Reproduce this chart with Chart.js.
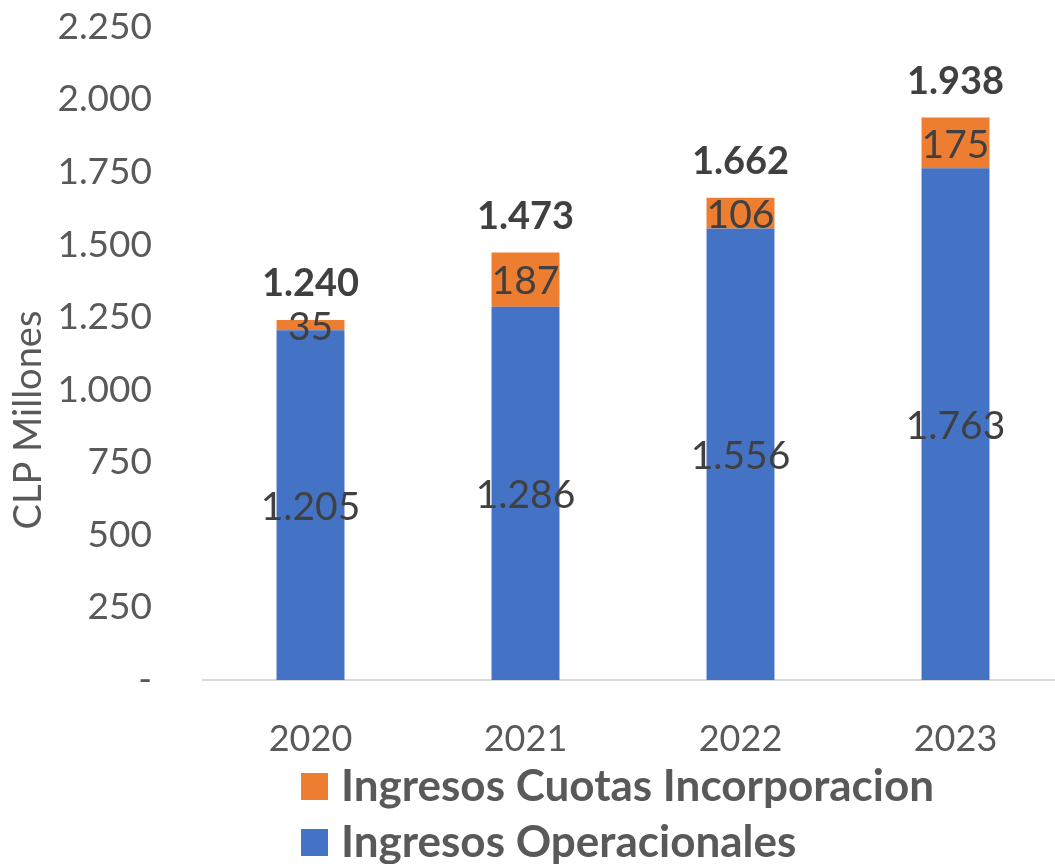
<!DOCTYPE html>
<html>
<head>
<meta charset="utf-8">
<script src="https://cdn.jsdelivr.net/npm/chart.js@4/dist/chart.umd.min.js"></script>
<style>
  html, body { margin: 0; padding: 0; background: #fff; overflow: hidden; }
  /* el área del gráfico sobresale un poco a la derecha, como en el original */
  #wrap { width: 1063px; height: 864px; }
</style>
</head>
<body>
<div id="wrap"><canvas id="ingresosChart"></canvas></div>
<script>
// Datos del gráfico
const years = ['2020', '2021', '2022', '2023'];
const operacionales = [1205, 1286, 1556, 1763];
const cuotas = [35, 187, 106, 175];
const totales = [1240, 1473, 1662, 1938];
const yTicks = [0, 250, 500, 750, 1000, 1250, 1500, 1750, 2000, 2250];

const FONT = 'Lato, "Open Sans", sans-serif';
const GRIS = '#595959';

// formato chileno: 1.205
function fmt(n) {
    if (n === 0) return '-';
    return String(n).replace(/\B(?=(\d{3})+(?!\d))/g, '.');
}

// etiquetas de valores + totales + leyenda + título eje
const etiquetas = {
    id: 'etiquetas',
    afterDatasetsDraw(chart) {
        const ctx = chart.ctx;
        ctx.save();
        ctx.textAlign = 'center';
        ctx.textBaseline = 'middle';
        ctx.fillStyle = '#404040';
        ctx.font = '39px ' + FONT;
        chart.data.datasets.forEach((ds, i) => {
            const meta = chart.getDatasetMeta(i);
            meta.data.forEach((bar, j) => {
                const yc = (bar.y + bar.base) / 2;
                ctx.fillText(fmt(ds.data[j]), bar.x, yc + 2);
            });
        });
        // totales en negrita
        const top = chart.getDatasetMeta(1);
        ctx.font = 'bold 38px ' + FONT;
        top.data.forEach((bar, j) => {
            ctx.fillText(fmt(totales[j]), bar.x, bar.y - 36);
        });
        ctx.restore();
    },
    afterDraw(chart) {
        const ctx = chart.ctx;
        ctx.save();
        // título eje Y
        ctx.fillStyle = GRIS;
        ctx.font = '38px ' + FONT;
        ctx.translate(29, 420);
        ctx.rotate(-Math.PI / 2);
        ctx.textAlign = 'center';
        ctx.textBaseline = 'middle';
        ctx.fillText('CLP Millones', 0, 0);
        ctx.restore();

        // leyenda (orden invertido, como en Excel)
        ctx.save();
        const items = [chart.data.datasets[1], chart.data.datasets[0]];
        ctx.font = 'bold 44px ' + FONT;
        ctx.textBaseline = 'middle';
        ctx.textAlign = 'left';
        items.forEach((ds, k) => {
            const y = 773 + k * 56;
            ctx.fillStyle = ds.backgroundColor;
            ctx.fillRect(301, y, 27, 27);
            ctx.fillStyle = GRIS;
            ctx.fillText(ds.label, 341, y + 14);
        });
        ctx.restore();
    }
};

new Chart(document.getElementById('ingresosChart'), {
    type: 'bar',
    data: {
        labels: years,
        datasets: [
            {
                label: 'Ingresos Operacionales',
                data: operacionales,
                backgroundColor: '#4472C4',
                barPercentage: 0.316,
                categoryPercentage: 1
            },
            {
                label: 'Ingresos Cuotas Incorporacion',
                data: cuotas,
                backgroundColor: '#ED7D31',
                barPercentage: 0.316,
                categoryPercentage: 1
            }
        ]
    },
    options: {
        responsive: true,
        maintainAspectRatio: false,
        animation: false,
        layout: { padding: { top: 27, right: 0, bottom: 104, left: 0 } },
        plugins: {
            legend: { display: false },
            title: { display: false },
            tooltip: { enabled: false }
        },
        scales: {
            x: {
                stacked: true,
                grid: { display: false, drawTicks: false },
                border: { display: true, color: '#d9d9d9', width: 2 },
                ticks: { font: { family: FONT, size: 36 }, color: GRIS, padding: 38 },
                afterFit(scale) { scale.height = 80; }
            },
            y: {
                stacked: true,
                min: 0,
                max: 2250,
                grid: { display: false, drawTicks: false },
                border: { display: false },
                afterBuildTicks(scale) { scale.ticks = yTicks.map(v => ({ value: v })); },
                ticks: {
                    font: { family: FONT, size: 37 },
                    color: GRIS,
                    padding: 51,
                    callback: v => fmt(v)
                },
                afterFit(scale) {
                    scale.width = 203;
                    scale.paddingTop = 0;
                    scale.paddingBottom = 0;
                }
            }
        }
    },
    plugins: [etiquetas]
});
</script>
</body>
</html>
